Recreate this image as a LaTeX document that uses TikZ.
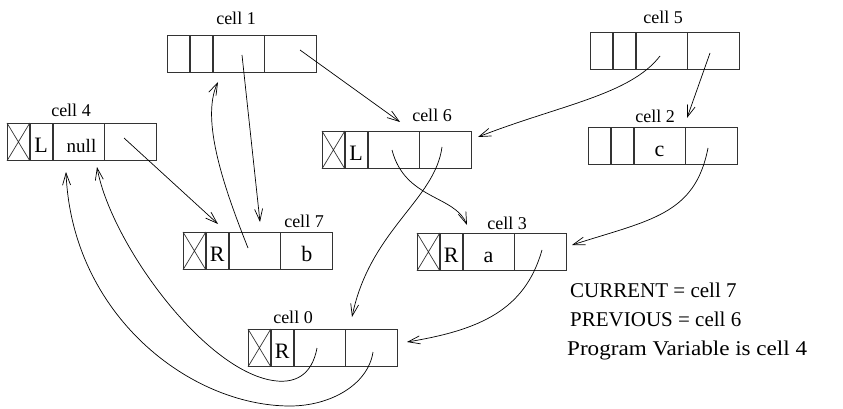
\documentclass[tikz,border=0pt]{standalone}
\usepackage{fontspec}
\setmainfont{Liberation Serif}
\usetikzlibrary{arrows.meta}
\newcommand\listcell[7]{% name, x, y, crossed, text b, text c, text d
  \node[fld, minimum width=22pt, anchor=north west] (#1a) at (#2,#3) {};
  \node[fld, minimum width=22pt, anchor=west] (#1b) at (#1a.east) {#5};
  \node[fld, minimum width=51pt, anchor=west] (#1c) at (#1b.east) {#6};
  \node[fld, minimum width=52pt, anchor=west] (#1d) at (#1c.east) {#7};
  \ifnum#4=1
    \draw[crossln] (#1a.north west) -- (#1a.south east) (#1a.south west) -- (#1a.north east);
  \fi
}
\begin{document}
\begin{tikzpicture}[x=1pt,y=-1pt,
  fld/.style={draw=black!80, line width=0.8pt, minimum height=37pt, inner sep=0pt,
    text height=21pt, text depth=0pt, font=\fontsize{22}{24}\selectfont},
  crossln/.style={draw=black!80, line width=0.7pt},
  lbl/.style={font=\fontsize{18}{20}\selectfont, inner sep=0pt, anchor=base},
  ptr/.style={-{Straight Barb[length=12pt,width=8pt]}, line width=0.7pt},
  info/.style={font=\fontsize{21}{23}\selectfont, anchor=base west, inner sep=0pt}]
\useasboundingbox (0,0) rectangle (843,409);

% cells
\listcell{c4}{7}{123}{1}{L}{\hspace{6pt}\fontsize{19}{20}\selectfont null}{}
\listcell{c1}{167}{35}{0}{}{}{}
\listcell{c6}{322}{131}{1}{L}{}{}
\listcell{c5}{590}{32}{0}{}{}{}
\listcell{c2}{588}{127}{0}{}{c}{}
\listcell{c7}{183}{232}{1}{R}{}{b}
\listcell{c3}{417}{233}{1}{R}{a}{}
\listcell{c0}{248}{329}{1}{R}{}{}

% labels
\node[lbl] (l4) at (71,117) {cell 4};
\node[lbl] (l1) at (236,25) {cell 1};
\node[lbl] (l6) at (432,122) {cell 6};
\node[lbl] (l5) at (663,24) {cell 5};
\node[lbl] (l2) at (655,123) {cell 2};
\node[lbl] (l7) at (304,227) {cell 7};
\node[lbl] (l3) at (507,229) {cell 3};
\node[lbl] (l0) at (293,323) {cell 0};

% pointer start points
\coordinate (s1d) at (300,50);
\coordinate (s1c) at (242,55);
\coordinate (s7c) at (248,248);
\coordinate (s4d) at (124,138);
\coordinate (s5c) at (660,56);
\coordinate (s5d) at (710,53);
\coordinate (s2d) at (708,148);
\coordinate (s6c) at (392,150);
\coordinate (s6d) at (442,147);
\coordinate (s3d) at (542,250);
\coordinate (s0c) at (317,348);
\coordinate (s0d) at (373,352);
% pointer targets
\coordinate (t6) at (400,122);
\coordinate (t7a) at (260,222);
\coordinate (t1) at (218,82);
\coordinate (t7b) at (218,224);
\coordinate (t6r) at (478,137);
\coordinate (t2) at (687,118);
\coordinate (t3r) at (572,245);
\coordinate (t3) at (467,225);
\coordinate (t0) at (352,317);
\coordinate (t0r) at (407,342);
\coordinate (t4b) at (97,167);
\coordinate (t4a) at (66,172);
\coordinate (m11) at (270,380);
\coordinate (m12) at (290,406);

% pointers
\draw[ptr] (s1d) -- (t6);
\draw[ptr] (s1c) -- (t7a);
\draw[ptr] (s7c) .. controls (225,190) and (200,120) .. (t1);
\draw[ptr] (s4d) -- (t7b);
\draw[ptr] (s5c) .. controls (630,95) and (560,105) .. (t6r);
\draw[ptr] (s5d) -- (t2);
\draw[ptr] (s2d) .. controls (695,215) and (650,220) .. (t3r);
\draw[ptr] (s6c) .. controls (405,200) and (455,195) .. (t3);
\draw[ptr] (s6d) .. controls (435,200) and (370,230) .. (t0);
\draw[ptr] (s3d) .. controls (525,310) and (480,330) .. (t0r);
\draw[ptr] (s0c) .. controls (312,375) and (295,385) .. (m11)
  .. controls (200,366) and (110,240) .. (t4b);
\draw[ptr] (s0d) .. controls (368,385) and (330,406) .. (m12)
  .. controls (190,406) and (72,315) .. (t4a);

% info text
\node[info] (cur) at (570,297) {CURRENT = cell 7};
\node[info] (prev) at (570,326) {PREVIOUS = cell 6};
\node[info] (prog) at (567,355) {\scalebox{1.1}[1]{Program Variable is cell 4}};
\end{tikzpicture}
\end{document}
